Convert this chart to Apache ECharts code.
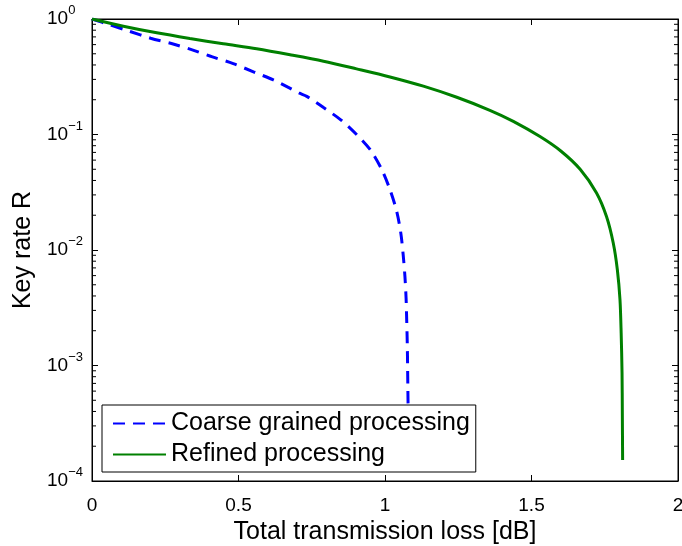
<!DOCTYPE html>
<html>
<head>
<meta charset="utf-8">
<script src="https://cdn.jsdelivr.net/npm/echarts@6/dist/echarts.min.js"></script>
<style>html,body{margin:0;padding:0;background:#fff;}#c{width:682px;height:546px;}</style>
</head>
<body>
<div id="c"></div>
<script>
// ---- data ----
var coarseX = [0, 0.058, 0.130, 0.200, 0.274, 0.342, 0.411, 0.482, 0.551, 0.619, 0.670, 0.706, 0.733, 0.789, 0.849, 0.903, 0.951, 0.989, 1.017, 1.040, 1.054, 1.062, 1.068, 1.072, 1.074, 1.076, 1.077, 1.078, 1.079, 1.080];
var coarseR = [1, 0.895, 0.78, 0.682, 0.61, 0.541, 0.47, 0.411, 0.349, 0.297, 0.256, 0.229, 0.214, 0.172, 0.134, 0.100, 0.073, 0.0497, 0.0333, 0.0216, 0.0140, 0.0091, 0.0059, 0.0038, 0.0025, 0.00157, 0.00105, 0.00064, 0.00040, 0.00016];
var refinedX = [0, 0.107, 0.221, 0.334, 0.448, 0.562, 0.676, 0.790, 0.903, 1.017, 1.131, 1.245, 1.358, 1.438, 1.529, 1.600, 1.666, 1.722, 1.756, 1.779, 1.793, 1.802, 1.806, 1.809, 1.810, 1.811];
var refinedR = [1, 0.866, 0.759, 0.678, 0.610, 0.552, 0.490, 0.431, 0.370, 0.315, 0.262, 0.210, 0.162, 0.130, 0.096, 0.072, 0.050, 0.0312, 0.0195, 0.0115, 0.00675, 0.00371, 0.00191, 0.00086, 0.000386, 0.000152];
var seriesNames = ['Coarse grained processing', 'Refined processing'];
var xTicks = [0, 0.5, 1, 1.5, 2];
var yDecades = [1e-4, 1e-3, 1e-2, 1e-1, 1];
var minorMultipliers = [2, 3, 4, 5, 6, 7, 8, 9];

var FONT = "'Liberation Sans', Arial, Helvetica, sans-serif";

function pairs(xs, ys) { return xs.map(function (x, i) { return [x, ys[i]]; }); }
var minorVals = [];
for (var d = 0; d < yDecades.length - 1; d++) {
  minorMultipliers.forEach(function (m) { minorVals.push([0, yDecades[d] * m]); });
}

var chart = echarts.init(document.getElementById('c'), null, { renderer: 'canvas' });
var yLabelFmt = function (v) {
  var e = Math.round(Math.log10(v));
  return '{b|10}{s|' + (e < 0 ? '\u2212' + (-e) : e) + '}';
};
var tickStyle = { show: true, inside: true, length: 6, lineStyle: { color: '#000', width: 1 } };
var lineStyleAxis = { show: true, onZero: false, lineStyle: { color: '#000', width: 1 } };

chart.setOption({
  animation: false,
  backgroundColor: '#fff',
  grid: { show: true, borderColor: '#000', borderWidth: 1, backgroundColor: 'transparent',
          left: 92, right: 4, top: 19, bottom: 65, containLabel: false, outerBoundsMode: 'none' },
  legend: {
    data: seriesNames,
    orient: 'vertical',
    left: 102, top: 405,
    itemWidth: 53, itemHeight: 14, itemGap: 6,
    padding: [6, 6, 5, 10],
    backgroundColor: '#fff',
    borderColor: '#000', borderWidth: 1,
    itemStyle: { opacity: 0, borderWidth: 0 },
    textStyle: { fontFamily: FONT, fontSize: 25, color: '#000', lineHeight: 25 },
    selectedMode: false
  },
  xAxis: [{
    type: 'value', min: xTicks[0], max: xTicks[xTicks.length - 1], interval: 0.5,
    name: 'Total transmission loss [dB]', nameLocation: 'middle', nameGap: 26,
    nameTextStyle: { fontFamily: FONT, fontSize: 25, color: '#000' },
    axisLine: lineStyleAxis, axisTick: tickStyle, splitLine: { show: false },
    axisLabel: { fontFamily: FONT, fontSize: 19, color: '#000', margin: 15 }
  }, {
    type: 'value', position: 'top', min: xTicks[0], max: xTicks[xTicks.length - 1], interval: 0.5,
    axisLine: lineStyleAxis, axisTick: tickStyle, splitLine: { show: false }, axisLabel: { show: false }
  }],
  yAxis: [{
    type: 'log', logBase: 10, min: yDecades[0], max: yDecades[yDecades.length - 1], interval: 1,
    name: 'Key rate R', nameLocation: 'middle', nameGap: 56,
    nameTextStyle: { fontFamily: FONT, fontSize: 25, color: '#000' },
    axisLine: lineStyleAxis, axisTick: tickStyle, splitLine: { show: false },
    axisLabel: {
      formatter: yLabelFmt, align: 'left', margin: 45,
      rich: {
        b: { fontFamily: FONT, fontSize: 19, color: '#000', lineHeight: 30 },
        s: { fontFamily: FONT, fontSize: 13, color: '#000', lineHeight: 13, verticalAlign: 'top' }
      }
    }
  }, {
    type: 'log', logBase: 10, position: 'right', min: yDecades[0], max: yDecades[yDecades.length - 1], interval: 1,
    axisLine: lineStyleAxis, axisTick: tickStyle, splitLine: { show: false }, axisLabel: { show: false }
  }],
  series: [{
    name: seriesNames[0], type: 'line', data: pairs(coarseX, coarseR),
    symbol: 'none', smooth: 0.3, z: 3,
    lineStyle: { color: '#0000ff', width: 3, type: [12, 8] }, itemStyle: { color: '#0000ff' }
  }, {
    name: seriesNames[1], type: 'line', data: pairs(refinedX, refinedR),
    symbol: 'none', smooth: 0.3, z: 3,
    lineStyle: { color: '#008000', width: 3, type: 'solid' }, itemStyle: { color: '#008000' }
  }, {
    name: 'minorTicks', type: 'custom', data: minorVals, silent: true, z: 5,
    renderItem: function (params, api) {
      var y = api.coord([0, api.value(1)])[1];
      var cs = params.coordSys;
      return { type: 'group', children: [
        { type: 'line', shape: { x1: cs.x, y1: y, x2: cs.x + 4, y2: y }, style: { stroke: '#000', lineWidth: 1 } },
        { type: 'line', shape: { x1: cs.x + cs.width, y1: y, x2: cs.x + cs.width - 4, y2: y }, style: { stroke: '#000', lineWidth: 1 } }
      ] };
    }
  }]
});
</script>
</body>
</html>
